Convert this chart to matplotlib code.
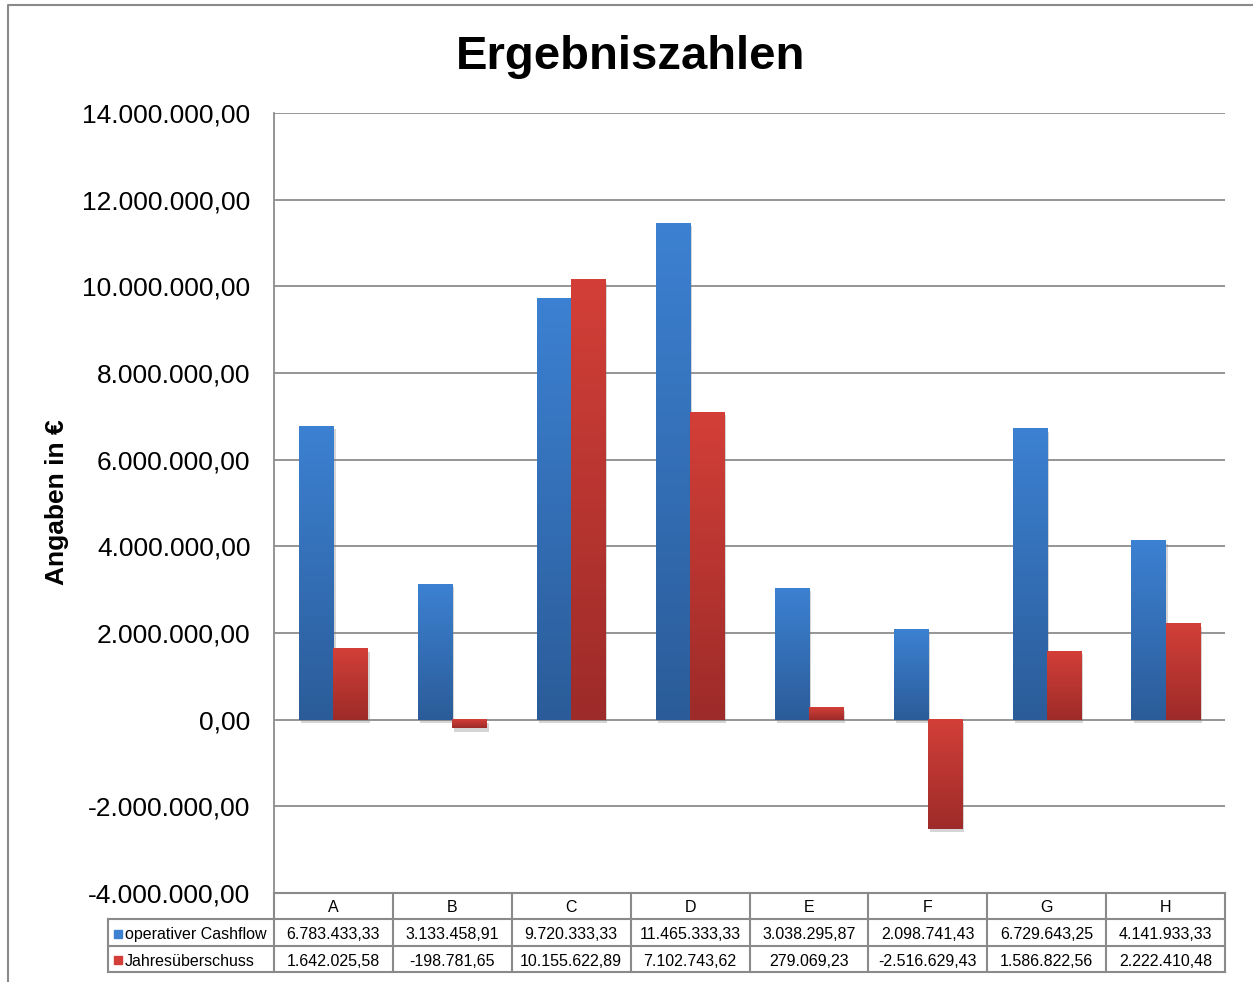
import numpy as np
import matplotlib
matplotlib.use("Agg")
import matplotlib.pyplot as plt
import matplotlib.patheffects as pe
from matplotlib.colors import LinearSegmentedColormap

plt.rcParams["font.family"] = ["Liberation Sans", "DejaVu Sans"]

categories = ["A", "B", "C", "D", "E", "F", "G", "H"]
cashflow = [6783433.33, 3133458.91, 9720333.33, 11465333.33,
            3038295.87, 2098741.43, 6729643.25, 4141933.33]
ueberschuss = [1642025.58, -198781.65, 10155622.89, 7102743.62,
               279069.23, -2516629.43, 1586822.56, 2222410.48]
series_names = ["operativer Cashflow", "Jahresüberschuss"]
yticks = [-4000000, -2000000, 0, 2000000, 4000000, 6000000,
          8000000, 10000000, 12000000, 14000000]

BLUE = ("#3c81d2", "#2b5c99")
RED = ("#d33f38", "#9d2b29")
GRID = "#8c8c8c"


def de_fmt(v):
    s = f"{v:,.2f}"
    return s.replace(",", "X").replace(".", ",").replace("X", ".")


def gradient_bars(ax, x, heights, w, colors):
    top, bot = colors
    cmap = LinearSegmentedColormap.from_list("g", [bot, top])
    grad = np.linspace(0, 1, 256).reshape(-1, 1)
    bars = ax.bar(x, heights, w, color=bot, edgecolor="none", zorder=3)
    for b in bars:
        b.set_path_effects([pe.SimplePatchShadow(offset=(1.5, -2.5), shadow_rgbFace="#777777", alpha=0.3),
                            pe.Normal()])
        y0 = b.get_y()
        y1 = y0 + b.get_height()
        lo, hi = min(y0, y1), max(y0, y1)
        ax.imshow(grad, extent=[b.get_x(), b.get_x() + w, lo, hi], origin="lower",
                  cmap=cmap, aspect="auto", zorder=4, interpolation="bilinear")
    return bars


W, H = 1253, 982
fig = plt.figure(figsize=(W / 100, H / 100), dpi=100)
L, R, T, B = 274, 1225, 113, 893
ax = fig.add_axes([L / W, 1 - B / H, (R - L) / W, (B - T) / H])

x = np.arange(len(categories))
bw = 0.287
gradient_bars(ax, x - bw / 2, cashflow, bw, BLUE)
gradient_bars(ax, x + bw / 2, ueberschuss, bw, RED)

ax.set_xlim(-0.5, len(categories) - 0.5)
ax.set_ylim(yticks[0], yticks[-1])
ax.set_yticks(yticks)
ax.set_yticklabels([de_fmt(v) for v in yticks], fontsize=19)
ax.tick_params(axis="y", length=0, pad=17)
ax.set_xticks([])
for v in yticks[1:]:
    ax.axhline(v, color=GRID, lw=1.3, zorder=1)
for s in ["top", "right", "bottom"]:
    ax.spines[s].set_visible(False)
ax.spines["left"].set_color(GRID)
ax.spines["left"].set_linewidth(1.3)

fig.text(631 / W, 1 - 57 / H, "Ergebniszahlen", fontsize=34, fontweight="bold",
         ha="center", va="center")
fig.text(57 / W, 1 - 502 / H, "Angaben in €", fontsize=19, fontweight="bold",
         rotation=90, ha="center", va="center")

# overlay for the data table and the frame
ov = fig.add_axes([0, 0, 1, 1])
ov.set_xlim(0, W)
ov.set_ylim(H, 0)
ov.axis("off")

lc = "#8a8a8a"
ov.plot([8, 8, W], [H, 5, 5], color="#8a8a8a", lw=1.5)

row_y = [893, 919, 946, 972]
colw = (R - L) / len(categories)
ov.plot([L, R], [row_y[0], row_y[0]], color=lc, lw=1.5)
for yy in row_y[1:]:
    ov.plot([108, R], [yy, yy], color=lc, lw=1.5)
ov.plot([108, 108], [row_y[1], row_y[3]], color=lc, lw=1.5)
for i in range(len(categories) + 1):
    xx = L + i * colw
    ov.plot([xx, xx], [row_y[0], row_y[3]], color=lc, lw=1.5)

for i, c in enumerate(categories):
    cx = L + (i + 0.5) * colw
    ov.text(cx, (row_y[0] + row_y[1]) / 2 + 2, c, fontsize=11.5, ha="center", va="center")
    ov.text(cx, (row_y[1] + row_y[2]) / 2 + 2, de_fmt(cashflow[i]), fontsize=11.5,
            ha="center", va="center")
    ov.text(cx, (row_y[2] + row_y[3]) / 2 + 2, de_fmt(ueberschuss[i]), fontsize=11.5,
            ha="center", va="center")

for j, (name, cols) in enumerate(zip(series_names, [BLUE, RED])):
    yc = (row_y[j + 1] + row_y[j + 2]) / 2
    ov.add_patch(plt.Rectangle((114, yc - 3), 8, 8, color=cols[0]))
    ov.text(125, yc + 2, name, fontsize=11.5, ha="left", va="center")

fig.savefig("out.png", dpi=100)
